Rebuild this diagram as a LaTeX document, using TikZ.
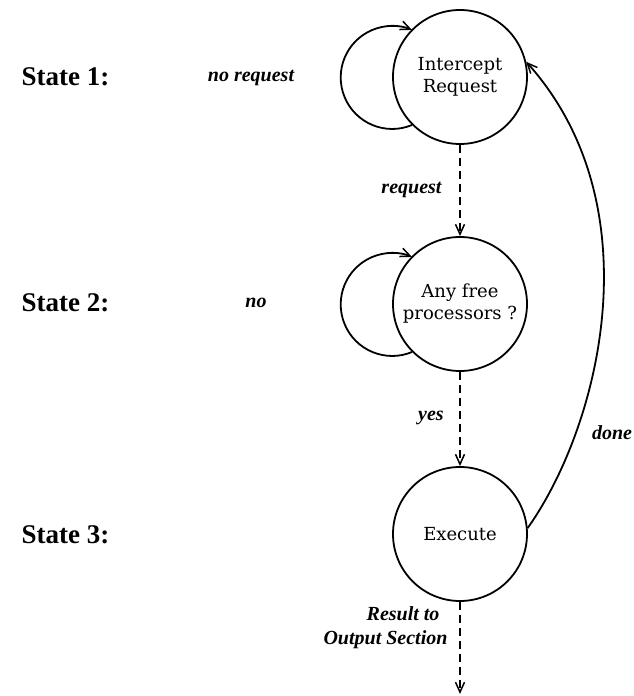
\documentclass[tikz,border=0pt]{standalone}
\usepackage{fontspec}
\setmainfont{Liberation Serif}
\newfontfamily\statefont{DejaVu Serif}
\usetikzlibrary{arrows.meta}
\begin{document}
\begin{tikzpicture}[x=1pt,y=1pt,
  tip/.style={-{Straight Barb[length=10pt,width=9pt,line width=1.5pt]}},
  state/.style={circle,draw,line width=1.8pt,minimum size=134pt,inner sep=0pt,
    align=center,font=\statefont\fontsize{18}{22}\selectfont},
  cond/.style={font=\fontsize{20}{22}\selectfont\bfseries\itshape},
  level/.style={font=\fontsize{27}{29}\selectfont\bfseries,anchor=west},
  flow/.style={line width=1.8pt,dash pattern=on 8pt off 5pt,tip},
  arc/.style={line width=1.8pt,tip}]
\useasboundingbox (0,0) rectangle (633,696);

% the three states
\node[state] (s1) at (460,619) {Intercept\\Request};
\node[state] (s2) at (460,392) {Any free\\processors ?};
\node[state] (s3) at (460,162) {Execute};

% self loops on the left of the first two states
\draw[arc] (s1.225) arc[start angle=-67.4,end angle=-292.6,radius=51.5];
\draw[arc] (s2.225) arc[start angle=-67.4,end angle=-292.6,radius=51.5];

% transitions between states
\draw[flow] (s1.south) -- (s2.north);
\draw[flow] (s2.south) -- (s3.north);
\coordinate (out) at (460,2);
\draw[flow] (s3.south) -- (out);
\draw[arc] (s3.5) .. controls (600,270) and (655,490) .. (s1.13);

% row captions
\node[level] (l1) at (18,619) {State 1:};
\node[level] (l2) at (18,393) {State 2:};
\node[level] (l3) at (18,161) {State 3:};

% transition conditions
\node[cond] (c1) at (251,618) {no request};
\node[cond] (c2) at (256,393) {no};
\node[cond,anchor=east] (c3) at (445,506) {request};
\node[cond] (c4) at (431,278) {yes};
\node[cond] (c5) at (612,263) {done};
\node[cond,anchor=east] (c6) at (443,82) {Result to};
\node[cond,anchor=east] (c7) at (451,56) {Output Section};
\end{tikzpicture}
\end{document}
